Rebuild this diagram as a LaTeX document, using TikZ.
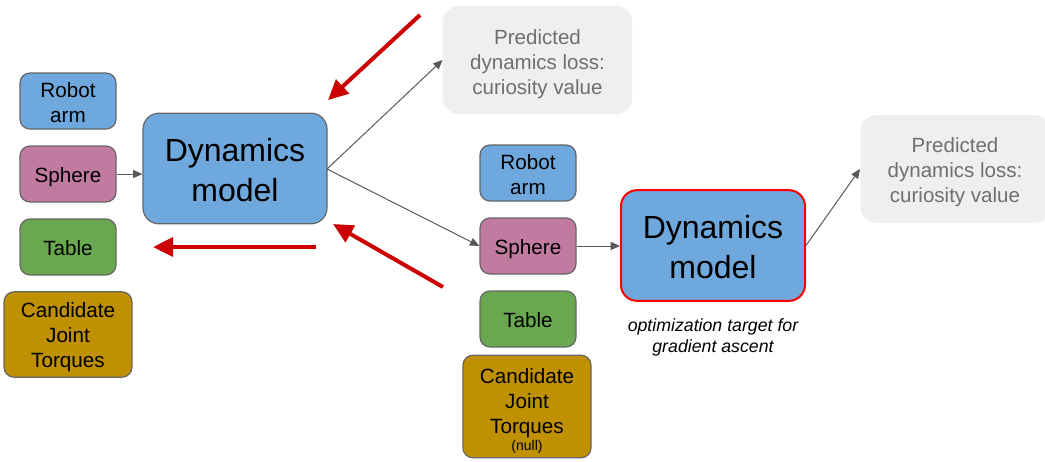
\documentclass[tikz,border=0pt]{standalone}
\usepackage{fontspec}
\setmainfont{Liberation Sans}
\usetikzlibrary{arrows.meta}
\definecolor{cblue}{HTML}{6FA8DC}
\definecolor{cpink}{HTML}{C27BA0}
\definecolor{cgreen}{HTML}{6AA84F}
\definecolor{cgold}{HTML}{BF9000}
\definecolor{cgray}{HTML}{EFEFEF}
\definecolor{ctext}{HTML}{6F6F6F}
\definecolor{cborder}{HTML}{666666}
\definecolor{cred}{HTML}{CC0000}
\definecolor{cline}{HTML}{595959}
\tikzset{
  box/.style={draw=cborder, line width=0.9pt, rounded corners=7.5pt, inner sep=0pt,
    minimum width=72pt, minimum height=42pt},
  dynbox/.style={box, rounded corners=12pt, minimum width=138pt, minimum height=83pt},
  predbox/.style={fill=cgray, draw=none, rounded corners=12pt, inner sep=0pt,
    minimum width=142pt, minimum height=81pt},
  txt/.style={align=center, inner sep=0pt, yshift=-2pt, font=\fontsize{15.5}{18.75}\selectfont},
  dyntxt/.style={txt, yshift=0.5pt, font=\fontsize{24}{30}\selectfont},
  predtxt/.style={txt, yshift=-1pt, text=ctext, font=\fontsize{15.4}{18.75}\selectfont},
  conn/.style={draw=cline, line width=0.75pt, -{Triangle[length=7pt,width=6pt]}},
  redarrow/.style={draw=cred, line width=3pt, -{Triangle[length=15pt,width=14pt]}},
}
\begin{document}
\begin{tikzpicture}[x=0.75pt,y=-0.75pt]
\useasboundingbox (0,0) rectangle (1045,461);
% left column
\node[box, fill=cblue, label={[txt, yshift=1pt]center:{Robot\\arm}}] (lrobot) at (68,101) {};
\node[box, fill=cpink, label={[txt]center:Sphere}] (lsphere) at (68,174) {};
\node[box, fill=cgreen, label={[txt, yshift=1.5pt]center:Table}] (ltable) at (68,247) {};
\node[box, fill=cgold, minimum width=96pt, minimum height=64pt,
  label={[txt]center:{Candidate\\Joint\\Torques}}] (lcand) at (68,334.5) {};
\node[dynbox, fill=cblue, label={[dyntxt]center:{Dynamics\\model}}] (ldyn) at (235,168.5) {};
\node[predbox, label={[predtxt]center:{Predicted\\dynamics loss:\\curiosity value}}] (lpred) at (537.5,60) {};
% right column
\node[box, fill=cblue, label={[txt, yshift=1pt]center:{Robot\\arm}}] (rrobot) at (528,173) {};
\node[box, fill=cpink, label={[txt]center:Sphere}] (rsphere) at (528,246) {};
\node[box, fill=cgreen, label={[txt, yshift=1.5pt]center:Table}] (rtable) at (528,319) {};
\node[box, fill=cgold, minimum width=96pt, minimum height=77pt,
  label={[txt, yshift=-1.5pt]center:{Candidate\\Joint\\Torques\\[-6pt]{\fontsize{10.5}{12}\selectfont (null)}}}] (rcand) at (527,406.5) {};
\node[dynbox, fill=cblue, draw=red, line width=1.5pt, label={[dyntxt]center:{Dynamics\\model}}] (rdyn) at (713,245.5) {};
\node[predbox, label={[predtxt, yshift=0.5pt]center:{Predicted\\dynamics loss:\\curiosity value}}] (rpred) at (955,169) {};
\node[align=center, font=\fontsize{13.3}{15.8}\selectfont\itshape] (cap) at (713,337)
  {optimization target for\\gradient ascent};
% grey connectors
\coordinate (lout) at (327,169);
\draw[conn] (lsphere.east) -- (ldyn.west |- lsphere.east);
\draw[conn] (lout) -- (lpred.west);
\draw[conn] (lout) -- (rsphere.west);
\draw[conn] (rsphere.east) -- (rdyn.west |- rsphere.east);
\draw[conn] (rdyn.east) -- (rpred.west);
% red arrows
\coordinate (r1a) at (420,15);
\coordinate (r1b) at (328,100);
\coordinate (r2a) at (316,247);
\coordinate (r2b) at (153,247);
\coordinate (r3a) at (443,287);
\coordinate (r3b) at (333,224);
\draw[redarrow] (r1a) -- (r1b);
\draw[redarrow] (r2a) -- (r2b);
\draw[redarrow] (r3a) -- (r3b);
\end{tikzpicture}
\end{document}
